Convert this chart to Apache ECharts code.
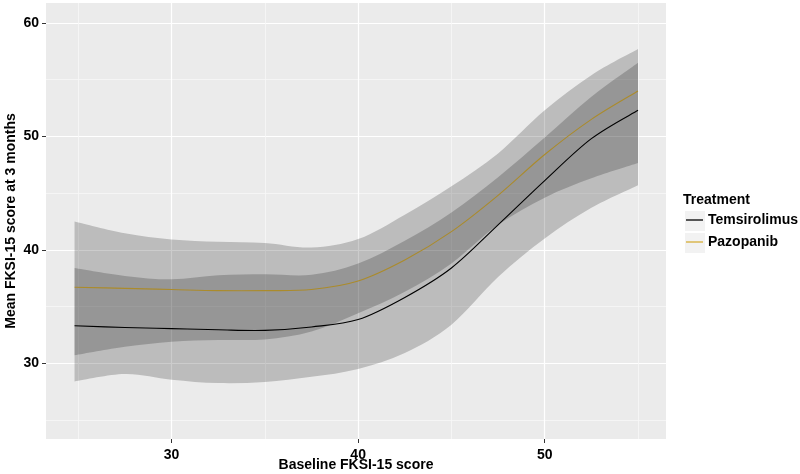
<!DOCTYPE html>
<html>
<head>
<meta charset="utf-8">
<script src="https://cdn.jsdelivr.net/npm/echarts@6/dist/echarts.min.js"></script>
<style>html,body{margin:0;padding:0;background:#fff}#c{width:800px;height:474px}</style>
</head>
<body>
<div id="c"></div>
<script>
// ---- data ----
const baseline = [24.8, 27.5, 30, 32.5, 35, 37.5, 40, 42.5, 45, 47.5, 50, 52.5, 55];
const temMean  = [33.3, 33.15, 33.05, 32.95, 32.9, 33.2, 33.85, 35.8, 38.4, 42.2, 46.1, 49.8, 52.3];
const temUpper = [38.4, 37.7, 37.4, 37.75, 37.85, 37.8, 38.8, 40.8, 43.3, 46.4, 49.9, 53.5, 56.5];
const temLower = [28.4, 29.05, 28.55, 28.25, 28.35, 28.8, 29.5, 30.9, 33.4, 37.6, 41.0, 43.7, 45.7];
const pazMean  = [36.7, 36.6, 36.5, 36.4, 36.4, 36.5, 37.25, 39.1, 41.6, 44.8, 48.4, 51.5, 54.0];
const pazUpper = [42.5, 41.45, 40.9, 40.7, 40.6, 40.2, 40.95, 43.1, 45.6, 48.5, 52.3, 55.4, 57.7];
const pazLower = [30.7, 31.45, 31.9, 32.05, 32.1, 32.8, 34.4, 36.3, 38.8, 42.2, 44.6, 46.3, 47.65];
const xTicks = [30, 40, 50];
const xMinor = [25, 35, 45, 55];
const yTicks = [30, 40, 50, 60];
const yMinor = [25, 35, 45, 55];
const seriesNames = ['Temsirolimus', 'Pazopanib'];

const FONT = "'Liberation Sans', Arial, sans-serif";
const XMIN = 23.27, XMAX = 56.5, YMIN = 23.32, YMAX = 61.76;

function pts(a) { return baseline.map((x, i) => [x, a[i]]); }

// Catmull-Rom spline through pixel points -> SVG path segments
function splineSegs(p) {
  let s = '';
  for (let i = 0; i < p.length - 1; i++) {
    const p0 = p[Math.max(0, i - 1)], p1 = p[i], p2 = p[i + 1], p3 = p[Math.min(p.length - 1, i + 2)];
    const c1 = [p1[0] + (p2[0] - p0[0]) / 6, p1[1] + (p2[1] - p0[1]) / 6];
    const c2 = [p2[0] - (p3[0] - p1[0]) / 6, p2[1] - (p3[1] - p1[1]) / 6];
    s += ' C' + c1[0] + ',' + c1[1] + ' ' + c2[0] + ',' + c2[1] + ' ' + p2[0] + ',' + p2[1];
  }
  return s;
}

function ribbonSeries(upper, lower) {
  return {
    type: 'custom', silent: true, coordinateSystem: 'cartesian2d',
    data: [[baseline[0], upper[0]]],
    renderItem: function (params, api) {
      const up = baseline.map((x, i) => api.coord([x, upper[i]]));
      const lo = baseline.map((x, i) => api.coord([x, lower[i]])).reverse();
      const d = 'M' + up[0][0] + ',' + up[0][1] + splineSegs(up) +
        ' L' + lo[0][0] + ',' + lo[0][1] + splineSegs(lo) + ' Z';
      return { type: 'path', shape: { pathData: d }, style: { fill: 'rgba(0,0,0,0.2)', stroke: null } };
    }
  };
}

function meanSeries(name, data, color) {
  return {
    name, type: 'custom', silent: true, coordinateSystem: 'cartesian2d',
    data: [data[0]], itemStyle: { color },
    renderItem: function (params, api) {
      const p = data.map(d => api.coord(d));
      const d = 'M' + p[0][0] + ',' + p[0][1] + splineSegs(p);
      return { type: 'path', shape: { pathData: d }, style: { fill: null, stroke: color, lineWidth: 1.1 } };
    }
  };
}

const labelStyle = { fontFamily: FONT, fontWeight: 'bold', fontSize: 14, color: '#000' };
const pazColor = '#D6AE36';
const temColor = '#000000';
const minorLine = { show: true, lineStyle: { color: '#F8F8F8', width: 0.8 } };

const option = {
  animation: false,
  backgroundColor: '#fff',
  grid: { left: 46, right: 134, top: 3, bottom: 35, show: true, backgroundColor: '#EBEBEB', borderWidth: 0,
    containLabel: false, outerBoundsMode: 'none' },
  xAxis: [{
    type: 'value', min: XMIN, max: XMAX,
    name: 'Baseline FKSI-15 score', nameLocation: 'middle', nameGap: 19, nameMoveOverlap: false,
    nameTextStyle: labelStyle,
    axisLine: { show: false },
    axisTick: { show: true, length: 4, lineStyle: { color: '#333', width: 1 }, customValues: xTicks },
    axisLabel: Object.assign({ customValues: xTicks, margin: 9 }, labelStyle),
    splitLine: { show: true, lineStyle: { color: '#fff', width: 1.2 } }
  }, {
    type: 'value', min: XMIN, max: XMAX, position: 'bottom',
    axisLine: { show: false },
    axisTick: { show: false, customValues: xMinor },
    axisLabel: { show: false, customValues: xMinor },
    splitLine: minorLine
  }],
  yAxis: [{
    type: 'value', min: YMIN, max: YMAX,
    name: 'Mean FKSI-15 score at 3 months', nameLocation: 'middle', nameGap: 28, nameMoveOverlap: false,
    nameTextStyle: labelStyle,
    axisLine: { show: false },
    axisTick: { show: true, length: 4, lineStyle: { color: '#333', width: 1 }, customValues: yTicks },
    axisLabel: Object.assign({ customValues: yTicks, margin: 7 }, labelStyle),
    splitLine: { show: true, lineStyle: { color: '#fff', width: 1.2 } }
  }, {
    type: 'value', min: YMIN, max: YMAX, position: 'left',
    axisLine: { show: false },
    axisTick: { show: false, customValues: yMinor },
    axisLabel: { show: false, customValues: yMinor },
    splitLine: minorLine
  }],
  legend: [
    { data: [seriesNames[0]], orient: 'vertical', left: 686, top: 213, padding: 0, icon: 'rect',
      itemWidth: 17, itemHeight: 1.3, textStyle: labelStyle, selectedMode: false },
    { data: [seriesNames[1]], orient: 'vertical', left: 686, top: 235, padding: 0, icon: 'rect',
      itemWidth: 17, itemHeight: 1.3, textStyle: labelStyle, selectedMode: false }
  ],
  graphic: [
    { type: 'text', left: 683, top: 193, z: 10,
      style: { text: 'Treatment', font: "bold 14px 'Liberation Sans', Arial, sans-serif", fill: '#000' } },
    { type: 'rect', shape: { x: 685, y: 211, width: 20, height: 20 }, style: { fill: '#F2F2F2' }, z: -1 },
    { type: 'rect', shape: { x: 685, y: 233, width: 20, height: 20 }, style: { fill: '#F2F2F2' }, z: -1 }
  ],
  series: [
    ribbonSeries(pazUpper, pazLower),
    meanSeries(seriesNames[1], pts(pazMean), pazColor),
    ribbonSeries(temUpper, temLower),
    meanSeries(seriesNames[0], pts(temMean), temColor)
  ]
};

const chart = echarts.init(document.getElementById('c'), null, { renderer: 'canvas' });
chart.setOption(option);
</script>
</body>
</html>
